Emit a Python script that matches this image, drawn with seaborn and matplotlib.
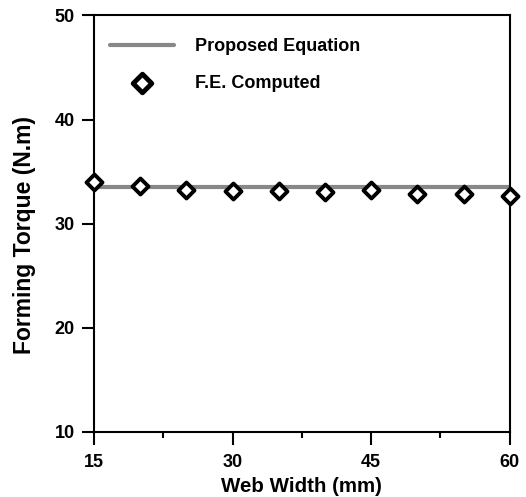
import numpy as np
import pandas as pd
import matplotlib
matplotlib.use("Agg")
import matplotlib.pyplot as plt
import seaborn as sns
from matplotlib.ticker import MultipleLocator

sns.set_style("ticks", rc={'text.color': 'black', 'axes.labelcolor': 'black',
                           'xtick.color': 'black', 'ytick.color': 'black',
                           'axes.edgecolor': 'black'})
plt.rcParams['font.family'] = ['Liberation Sans', 'DejaVu Sans']
plt.rcParams['font.weight'] = 'bold'

# data
web_width = [15, 20, 25, 30, 35, 40, 45, 50, 55, 60]
fe_torque = [34.0, 33.6, 33.2, 33.15, 33.1, 33.05, 33.2, 32.8, 32.8, 32.7]
eq_width = [15, 60]
eq_torque = [33.5, 33.5]

fe = pd.DataFrame({'w': web_width, 't': fe_torque})
eq = pd.DataFrame({'w': eq_width, 't': eq_torque})

fig = plt.figure(figsize=(5.26, 4.97), dpi=100)
ax = fig.add_axes([0.179, 0.131, 0.790, 0.838])

sns.lineplot(data=eq, x='w', y='t', color='#888888', linewidth=3,
             label='Proposed Equation', ax=ax)
sns.scatterplot(data=fe, x='w', y='t', marker='D', s=66, color='white',
                edgecolor='black', linewidth=2.8, label='F.E. Computed',
                zorder=5, clip_on=False, ax=ax)

ax.set_xlim(15, 60)
ax.set_ylim(10, 50)
ax.xaxis.set_major_locator(MultipleLocator(15))
ax.xaxis.set_minor_locator(MultipleLocator(7.5))
ax.yaxis.set_major_locator(MultipleLocator(10))

for s in ax.spines.values():
    s.set_linewidth(1.5)
ax.tick_params(which='major', direction='out', length=9, width=1.5,
               labelsize=13, pad=5)
ax.tick_params(axis='x', pad=7)
ax.tick_params(axis='x', which='minor', direction='out', length=4.5, width=1.5)
for lab in ax.get_xticklabels() + ax.get_yticklabels():
    lab.set_fontweight('bold')

ax.set_xlabel('Web Width (mm)', fontsize=14.8, fontweight='bold')
ax.set_ylabel('Forming Torque (N.m)', fontsize=16.5, fontweight='bold')
ax.xaxis.set_label_coords(0.5, -0.132)
ax.yaxis.set_label_coords(-0.168, 0.472)
ax.xaxis.label.set_va('center')
ax.yaxis.label.set_va('center')

leg = ax.legend(loc='upper left', bbox_to_anchor=(0.0, 0.985), frameon=False,
                fontsize=13, handlelength=3.5, handletextpad=1.2,
                labelspacing=1.1, borderaxespad=0.5)
for t in leg.get_texts():
    t.set_fontweight('bold')
mk = leg.legend_handles[1]
mk.set_sizes([90])
mk.set_linewidth(3.5)

fig.savefig('out.png', dpi=100)
